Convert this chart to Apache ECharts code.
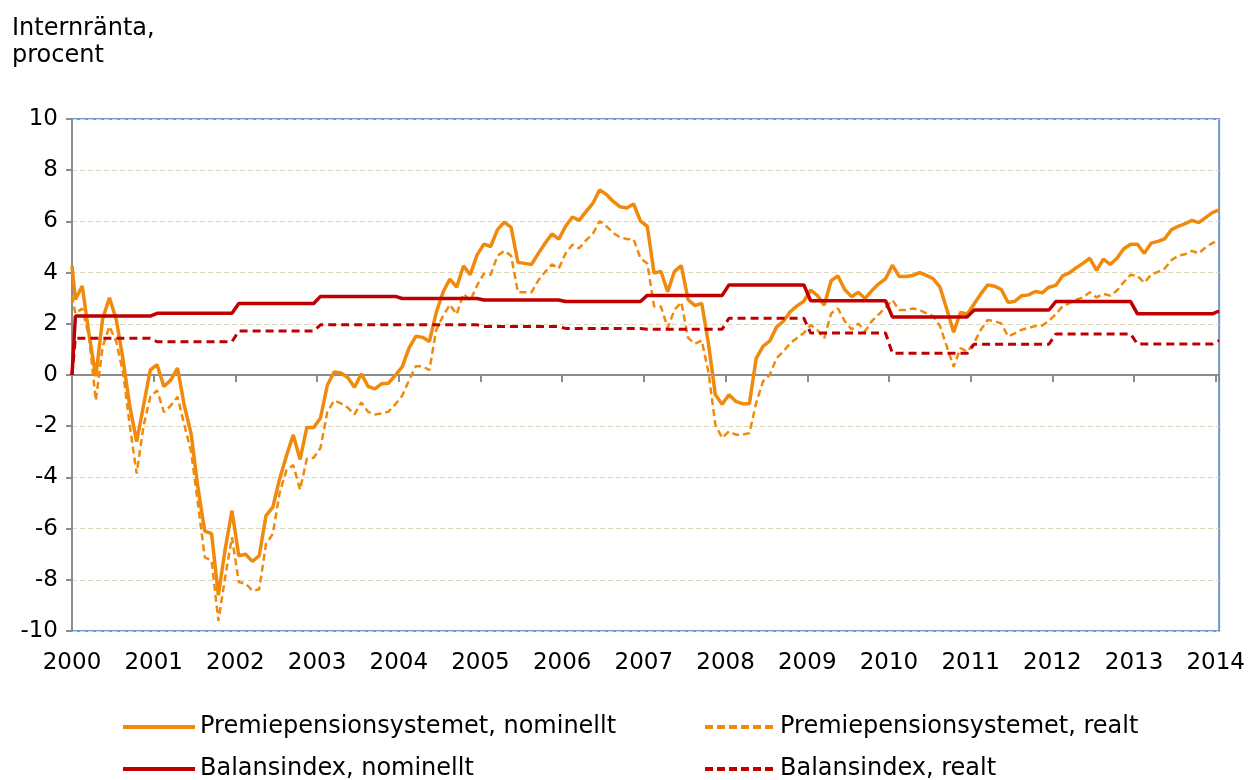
<!DOCTYPE html>
<html>
<head>
<meta charset="utf-8">
<script src="https://cdn.jsdelivr.net/npm/echarts@6/dist/echarts.min.js"></script>
<style>
    html, body { margin: 0; padding: 0; background: #fff; }
    #chart { width: 1248px; height: 780px; }
</style>
</head>
<body>
<div id="chart"></div>
<script>
// månadsdata, första värdet ligger på 2000-01-01, övriga mitt i månaden
var premieNominellt = [4.26,
    2.95, 3.48, 1.6, -0.05, 2.2, 3.02, 2.17, 0.6, -1.23, -2.6, -1.2, 0.2,
    0.4, -0.45, -0.2, 0.27, -1.2, -2.3, -4.4, -6.1, -6.2, -8.6, -6.8, -5.3,
    -7.06, -7.0, -7.28, -7.06, -5.49, -5.16, -4.06, -3.15, -2.34, -3.3, -2.05, -2.05,
    -1.68, -0.4, 0.12, 0.08, -0.1, -0.48, 0.05, -0.45, -0.54, -0.34, -0.32, -0.01,
    0.32, 1.05, 1.51, 1.47, 1.31, 2.44, 3.23, 3.75, 3.43, 4.26, 3.92, 4.69,
    5.11, 5.02, 5.68, 5.97, 5.77, 4.4, 4.36, 4.32, 4.75, 5.15, 5.51, 5.31,
    5.81, 6.17, 6.04, 6.38, 6.7, 7.23, 7.05, 6.78, 6.57, 6.52, 6.68, 6.01,
    5.81, 3.98, 4.05, 3.25, 4.05, 4.27, 2.94, 2.71, 2.8, 1.2, -0.77, -1.14,
    -0.77, -1.03, -1.12, -1.12, 0.65, 1.12, 1.33, 1.88, 2.1, 2.47, 2.7, 2.88,
    3.32, 3.1, 2.73, 3.68, 3.87, 3.34, 3.06, 3.23, 2.99, 3.3, 3.56, 3.76,
    4.29, 3.85, 3.85, 3.89, 4.0, 3.89, 3.76, 3.43, 2.57, 1.67, 2.44, 2.38,
    2.77, 3.17, 3.52, 3.47, 3.34, 2.83, 2.88, 3.1, 3.13, 3.26, 3.21, 3.43,
    3.5, 3.87, 3.99, 4.19, 4.36, 4.56, 4.09, 4.53, 4.32, 4.56, 4.93, 5.11,
    5.11, 4.75, 5.15, 5.22, 5.32, 5.68, 5.81, 5.91, 6.04, 5.95, 6.15, 6.34,
    6.45];

var premieRealt = [3.1,
    2.4, 2.6, 1.5, -1.0, 1.1, 1.9, 1.3, 0.1, -2.0, -3.85, -2.0, -0.85,
    -0.6, -1.45, -1.2, -0.85, -1.95, -3.0, -5.03, -7.12, -7.25, -9.6, -7.9, -6.34,
    -8.1, -8.14, -8.43, -8.37, -6.6, -6.2, -4.6, -3.72, -3.52, -4.48, -3.27, -3.23,
    -2.85, -1.45, -1.0, -1.11, -1.27, -1.54, -1.07, -1.44, -1.54, -1.5, -1.43, -1.14,
    -0.81, -0.21, 0.34, 0.34, 0.19, 1.77, 2.3, 2.75, 2.37, 3.17, 2.9, 3.5,
    3.96, 3.92, 4.66, 4.85, 4.66, 3.23, 3.23, 3.23, 3.7, 4.03, 4.32, 4.16,
    4.75, 5.09, 4.95, 5.26, 5.51, 6.01, 5.81, 5.55, 5.38, 5.31, 5.3, 4.56,
    4.36, 2.68, 2.68, 1.84, 2.55, 2.84, 1.45, 1.22, 1.35, 0.08, -1.94, -2.46,
    -2.2, -2.33, -2.33, -2.27, -1.09, -0.25, 0.01, 0.66, 0.92, 1.25, 1.45, 1.64,
    1.95, 1.75, 1.44, 2.4, 2.6, 2.11, 1.78, 2.01, 1.71, 2.11, 2.37, 2.64,
    2.93, 2.54, 2.54, 2.6, 2.54, 2.41, 2.3, 1.91, 1.11, 0.32, 1.05, 0.91,
    1.25, 1.77, 2.15, 2.11, 2.01, 1.51, 1.63, 1.77, 1.84, 1.91, 1.93, 2.11,
    2.37, 2.68, 2.81, 2.94, 3.03, 3.23, 3.03, 3.17, 3.1, 3.3, 3.63, 3.92,
    3.87, 3.6, 3.92, 4.03, 4.16, 4.49, 4.66, 4.72, 4.85, 4.75, 4.98, 5.15,
    5.28];

var balansNominellt = [0,
    2.30, 2.30, 2.30, 2.30, 2.30, 2.30, 2.30, 2.30, 2.30, 2.30, 2.30, 2.30,
    2.41, 2.41, 2.41, 2.41, 2.41, 2.41, 2.41, 2.41, 2.41, 2.41, 2.41, 2.41,
    2.79, 2.79, 2.79, 2.79, 2.79, 2.79, 2.79, 2.79, 2.79, 2.79, 2.79, 2.79,
    3.07, 3.07, 3.07, 3.07, 3.07, 3.07, 3.07, 3.07, 3.07, 3.07, 3.07, 3.07,
    2.99, 2.99, 2.99, 2.99, 2.99, 2.99, 2.99, 2.99, 2.99, 2.99, 2.99, 2.99,
    2.93, 2.93, 2.93, 2.93, 2.93, 2.93, 2.93, 2.93, 2.93, 2.93, 2.93, 2.93,
    2.87, 2.87, 2.87, 2.87, 2.87, 2.87, 2.87, 2.87, 2.87, 2.87, 2.87, 2.87,
    3.11, 3.11, 3.11, 3.11, 3.11, 3.11, 3.11, 3.11, 3.11, 3.11, 3.11, 3.11,
    3.52, 3.52, 3.52, 3.52, 3.52, 3.52, 3.52, 3.52, 3.52, 3.52, 3.52, 3.52,
    2.90, 2.90, 2.90, 2.90, 2.90, 2.90, 2.90, 2.90, 2.90, 2.90, 2.90, 2.90,
    2.27, 2.27, 2.27, 2.27, 2.27, 2.27, 2.27, 2.27, 2.27, 2.27, 2.27, 2.27,
    2.54, 2.54, 2.54, 2.54, 2.54, 2.54, 2.54, 2.54, 2.54, 2.54, 2.54, 2.54,
    2.87, 2.87, 2.87, 2.87, 2.87, 2.87, 2.87, 2.87, 2.87, 2.87, 2.87, 2.87,
    2.39, 2.39, 2.39, 2.39, 2.39, 2.39, 2.39, 2.39, 2.39, 2.39, 2.39, 2.39,
    2.50];

var balansRealt = [0,
    1.44, 1.44, 1.44, 1.44, 1.44, 1.44, 1.44, 1.44, 1.44, 1.44, 1.44, 1.44,
    1.30, 1.30, 1.30, 1.30, 1.30, 1.30, 1.30, 1.30, 1.30, 1.30, 1.30, 1.30,
    1.72, 1.72, 1.72, 1.72, 1.72, 1.72, 1.72, 1.72, 1.72, 1.72, 1.72, 1.72,
    1.96, 1.96, 1.96, 1.96, 1.96, 1.96, 1.96, 1.96, 1.96, 1.96, 1.96, 1.96,
    1.96, 1.96, 1.96, 1.96, 1.96, 1.96, 1.96, 1.96, 1.96, 1.96, 1.96, 1.96,
    1.89, 1.89, 1.89, 1.89, 1.89, 1.89, 1.89, 1.89, 1.89, 1.89, 1.89, 1.89,
    1.82, 1.82, 1.82, 1.82, 1.82, 1.82, 1.82, 1.82, 1.82, 1.82, 1.82, 1.82,
    1.79, 1.79, 1.79, 1.79, 1.79, 1.79, 1.79, 1.79, 1.79, 1.79, 1.79, 1.79,
    2.22, 2.22, 2.22, 2.22, 2.22, 2.22, 2.22, 2.22, 2.22, 2.22, 2.22, 2.22,
    1.64, 1.64, 1.64, 1.64, 1.64, 1.64, 1.64, 1.64, 1.64, 1.64, 1.64, 1.64,
    0.85, 0.85, 0.85, 0.85, 0.85, 0.85, 0.85, 0.85, 0.85, 0.85, 0.85, 0.85,
    1.20, 1.20, 1.20, 1.20, 1.20, 1.20, 1.20, 1.20, 1.20, 1.20, 1.20, 1.20,
    1.60, 1.60, 1.60, 1.60, 1.60, 1.60, 1.60, 1.60, 1.60, 1.60, 1.60, 1.60,
    1.21, 1.21, 1.21, 1.21, 1.21, 1.21, 1.21, 1.21, 1.21, 1.21, 1.21, 1.21,
    1.35];

var startYear = 2000;
var serieNamn = ['Premiepensionsystemet, nominellt', 'Premiepensionsystemet, realt',
    'Balansindex, nominellt', 'Balansindex, realt'];

// x i månader från jan 2000
var manad = [0];
for (var k = 0; k < premieNominellt.length - 1; k++) {
    manad.push(k + 0.5);
}

function par(values) {
    return values.map(function (v, i) { return [manad[i], v]; });
}

var font = 'DejaVu Sans, Verdana, sans-serif';
var orange = '#f08a0c';
var rod = '#c00000';

// legendikoner: hel linje och streckad linje
var heltIkon = 'path://M0 0H72V4H0Z';
var streckIkon = 'path://M0 0H8V4H0Z M12 0H20V4H12Z M24 0H32V4H24Z M36 0H44V4H36Z M48 0H56V4H48Z M60 0H68V4H60Z';

function legend(namn, ikon, farg, x, y) {
    return {
        left: x,
        top: y,
        padding: 0,
        itemWidth: 72,
        itemHeight: 4,
        itemStyle: { color: farg },
        textStyle: { color: '#000', fontFamily: font, fontSize: 24 },
        data: [{ name: namn, icon: ikon }]
    };
}

var chart = echarts.init(document.getElementById('chart'));
var option = {
    animation: false,
    backgroundColor: '#fff',
    title: {
        text: 'Internränta,\nprocent',
        left: 7,
        top: 10,
        textStyle: {
            color: '#000',
            fontFamily: font,
            fontWeight: 'normal',
            fontSize: 24,
            lineHeight: 27
        }
    },
    grid: {
        left: 72,
        right: 28,
        top: 119,
        bottom: 149,
        show: true,
        borderColor: '#7098cc',
        borderWidth: 2
    },
    legend: [
        legend(serieNamn[0], heltIkon, orange, 123, 715),
        legend(serieNamn[1], streckIkon, orange, 705, 715),
        legend(serieNamn[2], heltIkon, rod, 123, 757),
        legend(serieNamn[3], streckIkon, rod, 705, 757)
    ],
    xAxis: [
        {
            // axellinjen ligger vid noll
            type: 'value',
            min: 0,
            max: 168.5,
            interval: 12,
            position: 'bottom',
            axisLine: { onZero: true, lineStyle: { color: '#8c8c8c', width: 2 } },
            axisTick: { show: true, length: 7, lineStyle: { color: '#8c8c8c', width: 2 } },
            axisLabel: { show: false },
            splitLine: { show: false }
        },
        {
            // årtalen längst ner
            type: 'value',
            min: 0,
            max: 168.5,
            interval: 12,
            position: 'bottom',
            axisLine: { show: false, onZero: false },
            axisTick: { show: false },
            splitLine: { show: false },
            axisLabel: {
                color: '#000',
                fontFamily: font,
                fontSize: 23,
                margin: 21,
                showMaxLabel: false,
                formatter: function (v) {
                    return v % 12 === 0 ? String(startYear + v / 12) : '';
                }
            }
        }
    ],
    yAxis: {
        type: 'value',
        min: -10,
        max: 10,
        interval: 2,
        axisLine: { show: true, lineStyle: { color: '#8c8c8c', width: 2 } },
        axisTick: { show: true, length: 6, lineStyle: { color: '#8c8c8c', width: 2 } },
        axisLabel: { color: '#000', fontFamily: font, fontSize: 23, margin: 14 },
        splitLine: { lineStyle: { color: '#dcd8c0', type: [5, 3], width: 1 } }
    },
    series: [
        {
            name: serieNamn[0],
            type: 'line',
            xAxisIndex: 0,
            symbol: 'none',
            data: par(premieNominellt),
            itemStyle: { color: orange },
            lineStyle: { color: orange, width: 3.5 }
        },
        {
            name: serieNamn[1],
            type: 'line',
            xAxisIndex: 0,
            symbol: 'none',
            data: par(premieRealt),
            itemStyle: { color: orange },
            lineStyle: { color: orange, width: 2.5, type: [7, 4] }
        },
        {
            name: serieNamn[2],
            type: 'line',
            xAxisIndex: 0,
            symbol: 'none',
            data: par(balansNominellt),
            itemStyle: { color: rod },
            lineStyle: { color: rod, width: 3.5 }
        },
        {
            name: serieNamn[3],
            type: 'line',
            xAxisIndex: 0,
            symbol: 'none',
            data: par(balansRealt),
            itemStyle: { color: rod },
            lineStyle: { color: rod, width: 3, type: [8, 5] }
        }
    ]
};
chart.setOption(option);

window.onresize = function () {
    chart.resize();
};
</script>
</body>
</html>
